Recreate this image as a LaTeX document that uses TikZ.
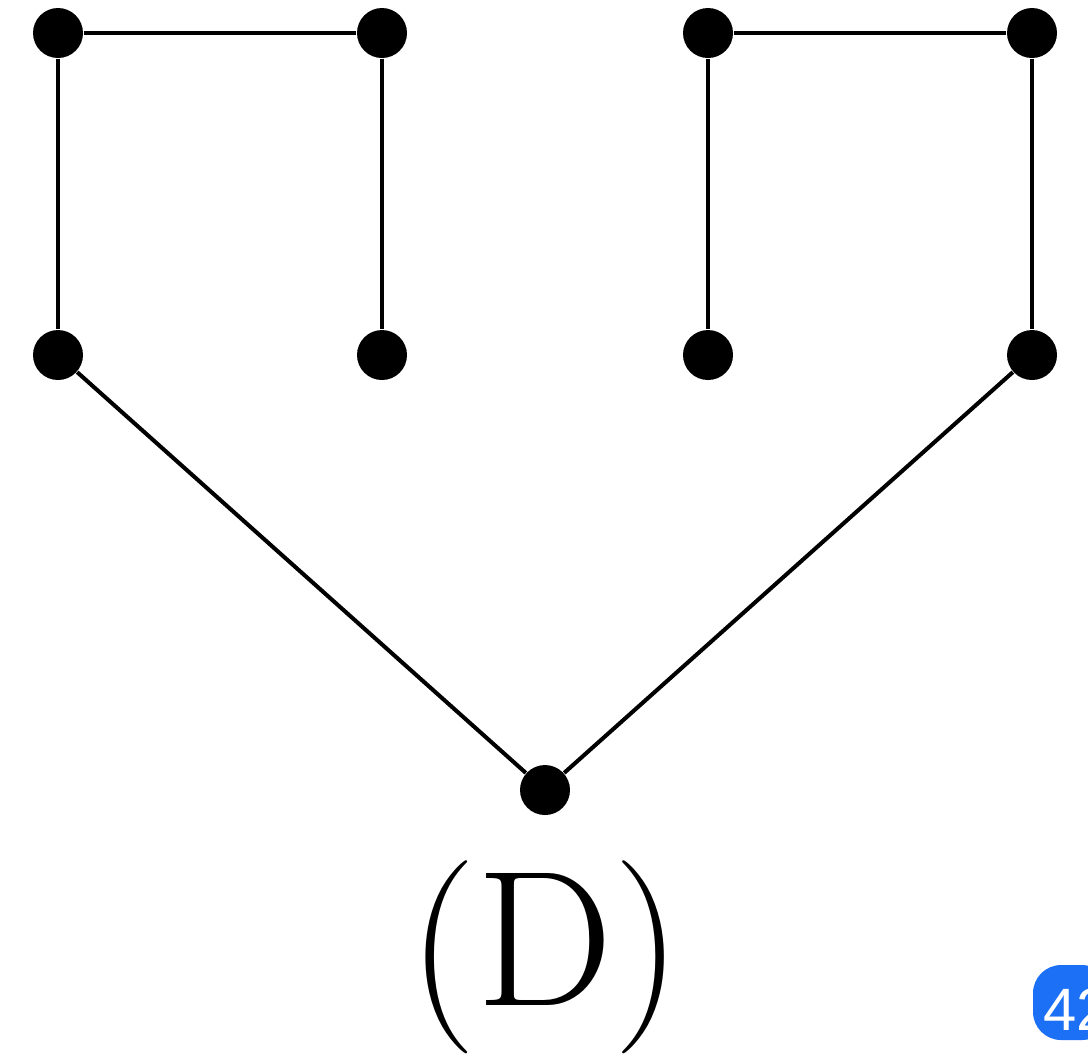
\documentclass[tikz,border=0pt]{standalone}
\usepackage{fontspec}
\newfontfamily\badgefont{Liberation Sans}
\definecolor{insignia}{RGB}{28,112,246}
\tikzset{
  vertice/.style={circle, fill=black, inner sep=0pt, minimum size=0.5cm},
  arista/.style={line width=1.15pt}
}
\begin{document}
\begin{tikzpicture}[x=0.1mm, y=-0.1mm]
            % Marco de la imagen
            \useasboundingbox (0,0) rectangle (1088,1057);

            % Vertices del arbol
            \node[vertice] (a1) at (58,33) {};
            \node[vertice] (a2) at (382,33) {};
            \node[vertice] (a3) at (708,33) {};
            \node[vertice] (a4) at (1032,33) {};
            \node[vertice] (b1) at (58,355) {};
            \node[vertice] (b2) at (382,355) {};
            \node[vertice] (b3) at (708,355) {};
            \node[vertice] (b4) at (1032,355) {};
            \node[vertice] (r) at (545,790) {};

            % Aristas
            \draw[arista] (a1) -- (a2);
            \draw[arista] (a3) -- (a4);
            \foreach \i in {1,...,4}
                \draw[arista] (a\i) -- (b\i);
            \draw[arista] (b1) -- (r) -- (b4);

            % Etiqueta
            \node[inner sep=0pt, anchor=base, font=\fontsize{55}{60}\selectfont] (lbl) at (545,1005) {(D)};

            % Insignia
            \fill[insignia, rounded corners=8] (1033,965) rectangle (1110,1040);
            \node[white, anchor=base west, inner sep=0pt, font=\badgefont\fontsize{17}{20}\selectfont] (num) at (1043,1030) {42};
        \end{tikzpicture}
\end{document}
